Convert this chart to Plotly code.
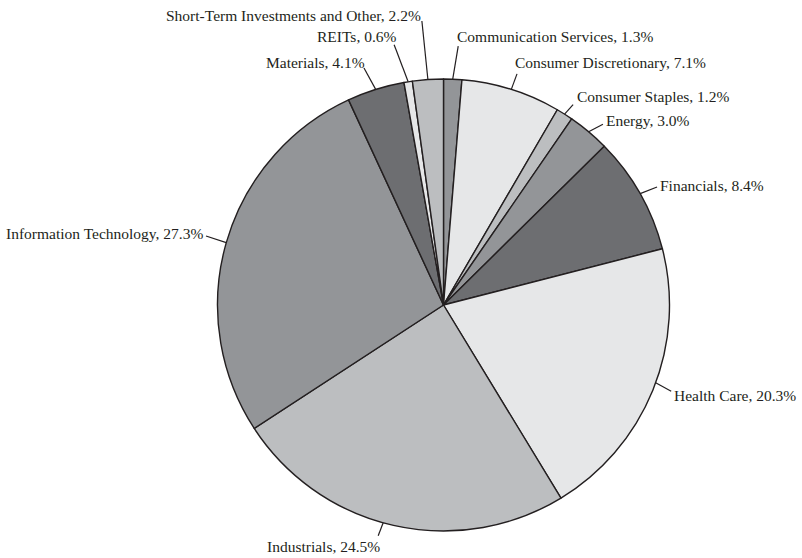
import math
import plotly.graph_objects as go

# ---- data ----
sectors = [
    "Communication Services", "Consumer Discretionary", "Consumer Staples",
    "Energy", "Financials", "Health Care", "Industrials",
    "Information Technology", "Materials", "REITs",
    "Short-Term Investments and Other",
]
weights = [1.3, 7.1, 1.2, 3.0, 8.4, 20.3, 24.5, 27.3, 4.1, 0.6, 2.2]
colors = ["#939598", "#e6e7e8", "#bcbec0", "#939598", "#6d6e71", "#e6e7e8",
          "#bcbec0", "#939598", "#6d6e71", "#e6e7e8", "#bcbec0"]

# ---- layout parameters (page pixel coordinates) ----
W, H = 802, 558
CX, CY, R = 443.5, 305.0, 226.0
INK = "#231f20"

# per label: angle nudge (deg), leader end offset from anchor (px),
# text offset from leader end (px), xanchor
label_cfg = [
    (0.0, (5.5, -33), (-3, -9.5), "left"),
    (0.0, (5.7, -15.5), (-4, -11), "left"),
    (0.0, (8.5, -9.5), (2, -8.5), "left"),
    (0.0, (14.3, -7.5), (1, -3.5), "left"),
    (0.0, (16.9, -6.6), (1, -2), "left"),
    (-2.0, (15.5, 8.5), (1, 4.5), "left"),
    (2.7, (-5.0, 13.0), (4, 11), "right"),
    (0.0, (-20.3, -6.6), (-1, -3), "right"),
    (0.0, (-11.7, -21.4), (3, -6), "right"),
    (0.0, (-14.0, -37.0), (5, -8), "right"),
    (0.0, (-6.0, -58.5), (1, -6), "right"),
]


def px(x):
    return x / W


def py(y):
    return 1 - y / H


fig = go.Figure(go.Pie(
    labels=sectors, values=weights, sort=False, direction="clockwise",
    rotation=0, marker=dict(colors=colors, line=dict(color=INK, width=1.4)),
    textinfo="none", hoverinfo="skip", showlegend=False,
    domain=dict(x=[px(CX - R), px(CX + R)], y=[py(CY + R), py(CY - R)]),
))

total = sum(weights)
cum = 0.0
shapes, annots = [], []
for name, v, (nudge, (ldx, ldy), (tdx, tdy), xa) in zip(sectors, weights, label_cfg):
    mid = (cum + v / 2) / total * 360 + nudge
    cum += v
    a = math.radians(mid)
    ax0 = CX + R * math.sin(a)
    ay0 = CY - R * math.cos(a)
    ex, ey = ax0 + ldx, ay0 + ldy
    shapes.append(dict(type="line", xref="paper", yref="paper",
                       x0=px(ax0), y0=py(ay0), x1=px(ex), y1=py(ey),
                       line=dict(color=INK, width=1.2)))
    annots.append(dict(text=f"{name}, {v:.1f}%", xref="paper", yref="paper",
                       x=px(ex + tdx), y=py(ey + tdy), xanchor=xa,
                       yanchor="middle", showarrow=False,
                       font=dict(family="Liberation Serif", size=15.5, color=INK)))

fig.update_layout(
    width=W, height=H, margin=dict(l=0, r=0, t=0, b=0),
    paper_bgcolor="white", plot_bgcolor="white",
    shapes=shapes, annotations=annots,
)
fig.write_html("out.html", config={"displayModeBar": False},
               post_script="document.body.style.margin='0px';")
